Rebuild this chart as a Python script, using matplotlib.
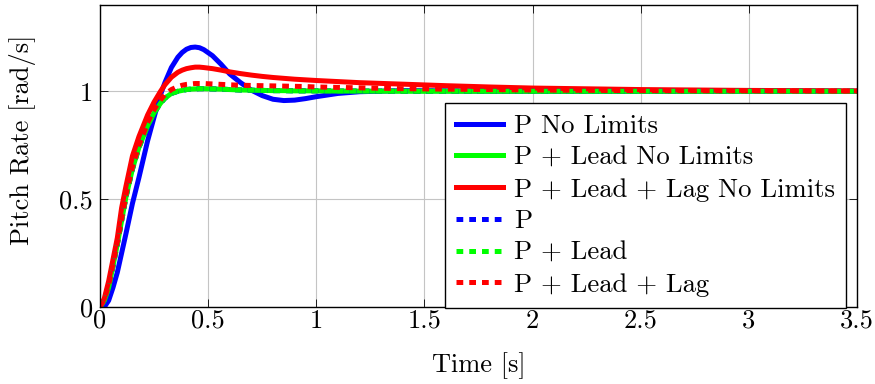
import matplotlib
matplotlib.use("Agg")
import matplotlib.pyplot as plt

plt.rcParams['font.family'] = 'serif'
plt.rcParams['font.serif'] = ['cmr10']
plt.rcParams['mathtext.fontset'] = 'cm'
plt.rcParams['axes.formatter.use_mathtext'] = True

# time samples (s)
t = [0, 0.02, 0.04, 0.06, 0.08, 0.1, 0.12, 0.15, 0.18, 0.2, 0.22, 0.25, 0.28, 0.3,
     0.33, 0.36, 0.38, 0.4, 0.42, 0.44, 0.46, 0.48, 0.52, 0.56, 0.6, 0.65, 0.7, 0.75,
     0.8, 0.85, 0.9, 0.95, 1.0, 1.1, 1.2, 1.4, 1.6, 1.8, 2.0, 2.5, 3.0, 3.5]

pNoLim = [0, 0.0, 0.03, 0.09, 0.16, 0.25, 0.34, 0.48, 0.6, 0.685, 0.77, 0.88, 0.985, 1.04,
          1.11, 1.158, 1.18, 1.195, 1.203, 1.205, 1.202, 1.193, 1.165, 1.125, 1.08, 1.04, 1.005, 0.98,
          0.963, 0.957, 0.959, 0.966, 0.975, 0.99, 0.998, 1.003, 1.002, 1.0, 1.0, 1.0, 1.0, 1.0]

leadNoLim = [0, 0.03, 0.09, 0.19, 0.29, 0.4, 0.51, 0.64, 0.74, 0.79, 0.84, 0.9, 0.945, 0.968,
             0.99, 1.0, 1.004, 1.008, 1.01, 1.011, 1.012, 1.012, 1.011, 1.01, 1.008, 1.006, 1.005, 1.004,
             1.003, 1.003, 1.002, 1.002, 1.002, 1.001, 1.001, 1.0, 1.0, 1.0, 1.0, 1.0, 1.0, 1.0]

lagNoLim = [0, 0.04, 0.12, 0.22, 0.32, 0.46, 0.56, 0.7, 0.79, 0.84, 0.89, 0.95, 1.0, 1.03,
            1.065, 1.088, 1.098, 1.105, 1.109, 1.112, 1.112, 1.11, 1.105, 1.098, 1.09, 1.082, 1.075, 1.069,
            1.064, 1.06, 1.056, 1.053, 1.05, 1.045, 1.04, 1.033, 1.026, 1.02, 1.015, 1.008, 1.004, 1.002]

pLim = [0, 0.03, 0.09, 0.19, 0.29, 0.4, 0.51, 0.64, 0.74, 0.79, 0.84, 0.9, 0.945, 0.968,
        0.99, 1.0, 1.004, 1.008, 1.01, 1.011, 1.012, 1.012, 1.011, 1.01, 1.008, 1.006, 1.005, 1.004,
        1.003, 1.003, 1.002, 1.002, 1.002, 1.001, 1.001, 1.0, 1.0, 1.0, 1.0, 1.0, 1.0, 1.0]

leadLim = [0, 0.03, 0.09, 0.19, 0.29, 0.4, 0.51, 0.64, 0.74, 0.79, 0.84, 0.9, 0.945, 0.968,
           0.99, 1.0, 1.004, 1.008, 1.01, 1.011, 1.012, 1.012, 1.011, 1.01, 1.008, 1.006, 1.005, 1.004,
           1.003, 1.003, 1.002, 1.002, 1.002, 1.001, 1.001, 1.0, 1.0, 1.0, 1.0, 1.0, 1.0, 1.0]

lagLim = [0, 0.035, 0.1, 0.2, 0.3, 0.41, 0.52, 0.65, 0.75, 0.8, 0.855, 0.915, 0.96, 0.985,
          1.008, 1.022, 1.028, 1.032, 1.034, 1.036, 1.036, 1.036, 1.034, 1.032, 1.03, 1.028, 1.027, 1.026,
          1.025, 1.024, 1.023, 1.022, 1.02, 1.018, 1.016, 1.012, 1.01, 1.008, 1.006, 1.003, 1.002, 1.001]

fig = plt.figure(figsize=(8.75, 3.84), dpi=100)
ax = fig.add_axes([100/875, 1 - 307/384, 757/875, 302/384])

lw = 3.6
dots = (1.35, 1.2)
ax.plot(t, pNoLim, color='#0000ff', lw=lw, label='P No Limits')
ax.plot(t, leadNoLim, color='#00ff00', lw=lw, label='P + Lead No Limits')
ax.plot(t, lagNoLim, color='#ff0000', lw=lw, label='P + Lead + Lag No Limits')
ax.plot(t, pLim, color='#0000ff', lw=lw, dashes=dots, dash_capstyle='butt', label='P')
ax.plot(t, leadLim, color='#00ff00', lw=lw, dashes=dots, dash_capstyle='butt', label='P + Lead')
ax.plot(t, lagLim, color='#ff0000', lw=lw, dashes=dots, dash_capstyle='butt', label='P + Lead + Lag')

ax.set_xlim(0, 3.5)
ax.set_ylim(0, 1.4)
ax.set_xticks([0, 0.5, 1, 1.5, 2, 2.5, 3, 3.5])
ax.set_xticklabels(['0', '0.5', '1', '1.5', '2', '2.5', '3', '3.5'])
ax.set_yticks([0, 0.5, 1])
ax.set_yticklabels(['0', '0.5', '1'])
ax.grid(True, color='#c4c4c4', linewidth=0.8)
ax.tick_params(direction='in', length=6, width=0.6, labelsize=19,
               top=True, right=True)
ax.tick_params(axis='x', pad=1.5)
ax.tick_params(axis='y', pad=5)
for s in ax.spines.values():
    s.set_linewidth(1.0)

ax.set_xlabel('Time [s]', fontsize=19)
ax.set_ylabel('Pitch Rate [rad/s]', fontsize=19)
ax.xaxis.set_label_coords(0.5, -0.150)
ax.yaxis.set_label_coords(-0.084, 0.553)

leg = ax.legend(loc='lower right', bbox_to_anchor=(0.9855, -0.003), borderaxespad=0,
                fontsize=19.2, fancybox=False, framealpha=1, edgecolor='black',
                handlelength=1.75, handletextpad=0.4, labelspacing=0.3,
                borderpad=0.42)
leg.get_frame().set_linewidth(1.0)

fig.savefig('out.png', dpi=100)
